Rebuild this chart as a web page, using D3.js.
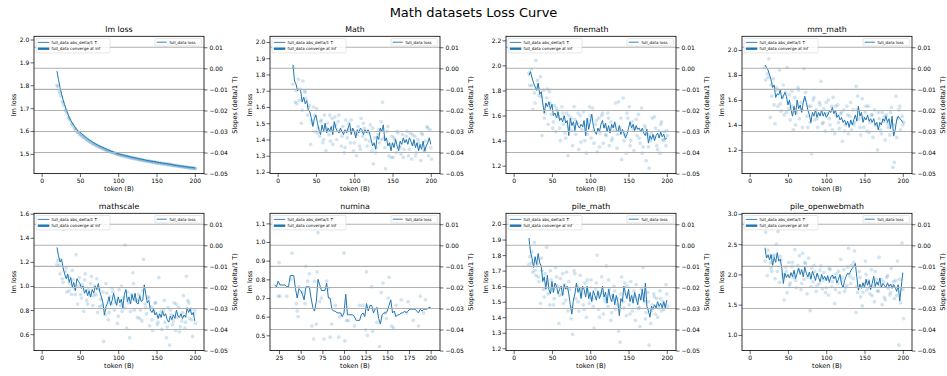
<!DOCTYPE html>
<html><head><meta charset="utf-8">
<script src="https://cdn.jsdelivr.net/npm/d3@7"></script>
<style>body{margin:0;background:#fff}svg{font-family:"DejaVu Sans",sans-serif;display:block}</style>
</head><body><svg id="chart" width="947" height="376"></svg>
<script>
const figTitle = "Math datasets Loss Curve";
const panelTitles = ["lm loss","Math","finemath","mm_math","mathscale","numina","pile_math","pile_openwebmath"];
const tokens = [20,22,24,26,28,30,32,34,36,38,40,42,44,46,48,50,52,54,56,58,60,62,64,66,68,70,72,74,76,78,80,82,84,86,88,90,92,94,96,98,100,102,104,106,108,110,112,114,116,118,120,122,124,126,128,130,132,134,136,138,140,142,144,146,148,150,152,154,156,158,160,162,164,166,168,170,172,174,176,178,180,182,184,186,188,190,192,194,196,198,200];
const scatterTokens = [21,23,25,27,29,31,33,35,37,39,41,43,45,47,49,51,53,55,57,59,61,63,65,67,69,71,73,75,77,79,81,83,85,87,89,91,93,95,97,99,101,103,105,107,109,111,113,115,117,119,121,123,125,127,129,131,133,135,137,139,141,143,145,147,149,151,153,155,157,159,161,163,165,167,169,171,173,175,177,179,181,183,185,187,189,191,193,195,197,199,201];
const scatterTokensB = [20,24,28,32,36,40,44,48,52,56,60,64,68,72,76,80,84,88,92,96,100,104,108,112,116,120,124,128,132,136,140,144,148,152,156,160,164,168,172,176,180,184,188,192,196,200];
const numinaScatterTokens = [24,25,26,34,39,40,45,46,47,48,52,55,56,58,60,63,65,66,68,69,70,72,74,77,80,82,84,86,90,94,95,100,101,103,105,112,118,122,125,126,127,132,133,138,141,143,145,148,149,151,152,155,157,160,166,172,174,180,186,188,192,194];

const lmLoss = [1.862,1.824,1.790,1.762,1.737,1.715,1.695,1.677,1.660,1.646,
1.635,1.625,1.615,1.606,1.600,1.595,1.589,1.583,1.578,1.572,
1.567,1.562,1.558,1.553,1.549,1.545,1.541,1.538,1.534,1.531,
1.528,1.525,1.522,1.519,1.516,1.513,1.511,1.508,1.506,1.503,
1.501,1.499,1.497,1.496,1.494,1.492,1.491,1.489,1.487,1.486,
1.484,1.483,1.481,1.480,1.478,1.477,1.476,1.474,1.473,1.471,
1.470,1.469,1.468,1.467,1.466,1.465,1.463,1.462,1.461,1.460,
1.459,1.458,1.457,1.456,1.455,1.454,1.452,1.451,1.450,1.449,
1.448,1.447,1.446,1.445,1.444,1.443,1.442,1.441,1.441,1.440,1.439];
const lmScatter = [1.795,1.775,1.752,1.730,1.710,1.692,1.676,1.660,1.647,1.634,
1.622,1.612,1.602,1.594,1.587,1.582,1.576,1.571,1.566,1.561,
1.557,1.552,1.548,1.544,1.541,1.537,1.533,1.530,1.527,1.524,
1.521,1.518,1.515,1.513,1.510,1.507,1.505,1.503,1.500,1.498,
1.496,1.494,1.492,1.491,1.489,1.487,1.486,1.484,1.482,1.481,
1.479,1.478,1.477,1.475,1.474,1.472,1.471,1.470,1.468,1.467,
1.466,1.465,1.464,1.463,1.461,1.460,1.459,1.458,1.457,1.456,
1.455,1.454,1.453,1.452,1.451,1.450,1.449,1.448,1.447,1.446,
1.445,1.444,1.443,1.442,1.441,1.440,1.439,1.438,1.437,1.437,1.436];
const lmScatterB = [1.800,1.765,1.722,1.688,1.655,1.630,1.610,1.594,1.585,1.574,
1.563,1.555,1.546,1.539,1.532,1.526,1.520,1.514,1.509,1.505,
1.500,1.496,1.493,1.490,1.486,1.484,1.481,1.478,1.475,1.472,
1.470,1.467,1.465,1.463,1.461,1.459,1.457,1.455,1.452,1.450,
1.448,1.446,1.444,1.442,1.440,1.438];

const mathLoss = [1.86,1.76,1.74,1.70,1.71,1.70,1.63,1.66,1.62,1.64,
1.58,1.57,1.53,1.48,1.53,1.55,1.50,1.46,1.43,1.49,
1.45,1.50,1.44,1.47,1.45,1.48,1.43,1.51,1.47,1.45,
1.44,1.47,1.45,1.43,1.46,1.44,1.47,1.50,1.43,1.47,
1.45,1.41,1.46,1.44,1.47,1.46,1.43,1.46,1.44,1.46,
1.44,1.40,1.36,1.38,1.34,1.42,1.40,1.47,1.45,1.49,
1.39,1.41,1.36,1.38,1.33,1.38,1.35,1.40,1.36,1.33,
1.39,1.37,1.41,1.38,1.40,1.37,1.41,1.39,1.36,1.40,
1.35,1.38,1.33,1.37,1.34,1.39,1.33,1.36,1.38,1.41,1.37];
const mathScatter = [1.84,1.63,1.62,1.77,1.71,1.50,1.76,1.70,1.65,1.55,
1.61,1.37,1.50,1.60,1.45,1.59,1.47,1.42,1.52,1.38,
1.55,1.33,1.50,1.43,1.39,1.53,1.48,1.54,1.40,1.51,
1.45,1.36,1.48,1.32,1.52,1.41,1.50,1.38,1.46,1.33,
1.44,1.30,1.48,1.36,1.53,1.42,1.47,1.40,1.36,1.44,
1.49,1.33,1.25,1.41,1.35,1.43,1.38,1.51,1.63,1.41,
1.22,1.45,1.30,1.37,1.42,1.29,1.40,1.32,1.44,1.36,
1.31,1.43,1.34,1.39,1.45,1.30,1.44,1.28,1.37,1.42,
1.32,1.40,1.35,1.27,1.43,1.33,1.39,1.48,1.30,1.46,1.28];
const mathScatterB = [1.74,1.70,1.64,1.58,1.69,1.60,1.52,1.55,1.44,1.51,
1.40,1.47,1.55,1.37,1.49,1.55,1.42,1.35,1.46,1.52,
1.38,1.43,1.34,1.50,1.45,1.39,1.47,1.32,1.46,1.40,
1.35,1.48,1.29,1.41,1.45,1.35,1.29,1.42,1.34,1.43,
1.30,1.38,1.44,1.33,1.47,1.35];

const finemathLoss = [1.92,1.95,1.90,1.86,1.83,1.80,1.86,1.77,1.79,1.70,
1.62,1.70,1.67,1.71,1.65,1.69,1.60,1.62,1.58,1.63,
1.56,1.58,1.55,1.60,1.54,1.56,1.44,1.58,1.52,1.55,
1.48,1.56,1.52,1.50,1.53,1.51,1.56,1.44,1.58,1.49,
1.55,1.61,1.52,1.47,1.45,1.50,1.47,1.53,1.56,1.50,
1.54,1.47,1.52,1.46,1.53,1.50,1.55,1.49,1.47,1.52,
1.45,1.49,1.46,1.42,1.45,1.50,1.55,1.50,1.53,1.48,
1.52,1.49,1.50,1.47,1.50,1.46,1.44,1.49,1.38,1.44,
1.41,1.45,1.40,1.44,1.46,1.42,1.47,1.43,1.45,1.41,1.42];
const finemathScatter = [1.84,1.97,1.65,1.78,2.04,1.88,1.76,1.91,1.44,1.80,
1.62,1.74,1.53,1.79,1.61,1.50,1.68,1.47,1.64,1.59,
1.40,1.67,1.53,1.46,1.62,1.28,1.50,1.58,1.36,1.67,
1.45,1.54,1.33,1.60,1.49,1.63,1.40,1.30,1.56,1.67,
1.42,1.66,1.38,1.53,1.31,1.58,1.46,1.60,1.38,1.51,
1.44,1.62,1.36,1.55,1.42,1.48,1.70,1.34,1.71,1.50,
1.25,1.74,1.45,1.30,1.58,1.67,1.40,1.55,1.32,1.50,
1.44,1.61,1.38,1.66,1.35,1.52,1.24,1.45,1.18,1.40,
1.58,1.43,1.50,1.36,1.48,1.30,1.55,1.41,1.47,1.36,1.44];
const finemathScatterB = [1.94,1.84,1.70,1.82,1.75,1.58,1.81,1.70,1.55,1.66,
1.50,1.62,1.42,1.60,1.48,1.57,1.62,1.39,1.52,1.45,
1.60,1.48,1.56,1.35,1.62,1.45,1.58,1.40,1.52,1.45,
1.58,1.40,1.62,1.36,1.49,1.57,1.42,1.30,1.50,1.35,
1.46,1.59,1.33,1.53,1.40,1.48];

const mmMathLoss = [1.88,1.86,1.84,1.80,1.76,1.70,1.72,1.62,1.65,1.64,
1.68,1.61,1.63,1.66,1.63,1.56,1.60,1.52,1.47,1.55,
1.48,1.60,1.53,1.56,1.50,1.58,1.63,1.58,1.52,1.48,
1.42,1.50,1.47,1.52,1.46,1.50,1.47,1.52,1.47,1.50,
1.46,1.48,1.51,1.50,1.54,1.49,1.52,1.46,1.48,1.44,
1.46,1.42,1.44,1.40,1.43,1.38,1.44,1.40,1.44,1.48,
1.43,1.55,1.47,1.50,1.42,1.46,1.44,1.48,1.43,1.45,
1.42,1.45,1.40,1.42,1.36,1.42,1.40,1.45,1.43,1.47,
1.42,1.45,1.37,1.47,1.31,1.36,1.44,1.47,1.45,1.44,1.42];
const mmMathScatter = [1.76,1.81,1.93,1.46,1.63,1.77,1.41,1.70,1.55,1.84,
1.51,1.62,1.48,1.66,1.86,1.53,1.44,1.67,1.36,1.62,
1.50,1.70,1.45,1.58,1.38,1.85,1.66,1.47,1.55,1.42,
1.17,1.60,1.44,1.52,1.38,1.58,1.75,1.41,1.53,1.35,
1.49,1.60,1.40,1.55,1.62,1.33,1.48,1.56,1.37,1.49,
1.27,1.52,1.40,1.55,1.33,1.47,1.36,1.52,1.42,1.71,
1.63,1.45,1.32,1.61,1.38,1.50,1.35,1.55,1.42,1.48,
1.30,1.52,1.40,1.20,1.45,1.36,1.50,1.43,1.28,1.48,
1.38,1.32,1.54,1.06,1.10,1.63,1.45,1.52,1.36,1.47,1.42];
const mmMathScatterB = [1.86,1.78,1.72,1.56,1.68,1.57,1.72,1.50,1.64,1.55,
1.40,1.68,1.52,1.60,1.38,1.55,1.62,1.45,1.56,1.42,
1.58,1.45,1.36,1.55,1.42,1.50,1.35,1.48,1.58,1.40,
1.52,1.38,1.46,1.55,1.34,1.48,1.40,1.50,1.33,1.47,
1.41,1.50,1.40,1.30,1.55,1.40];

const mathscaleLoss = [1.32,1.25,1.20,1.22,1.15,1.10,1.06,1.10,1.03,1.07,
0.99,1.03,0.96,1.06,1.04,1.02,0.98,1.00,0.94,0.97,
0.92,0.96,0.91,0.97,0.94,1.00,0.97,1.02,0.95,0.91,
0.86,0.76,0.83,0.86,0.91,0.84,0.88,0.94,0.88,0.84,
0.91,0.86,0.89,0.82,0.93,0.97,0.87,0.91,0.85,0.93,
0.88,0.94,0.86,0.85,0.92,0.87,0.88,1.01,0.93,0.86,
0.88,0.80,0.78,0.81,0.76,0.78,0.73,0.77,0.74,0.79,
0.75,0.77,0.72,0.70,0.75,0.72,0.76,0.73,0.80,0.75,
0.74,0.77,0.73,0.76,0.74,0.82,0.78,0.81,0.76,0.78,0.71];
const mathscaleScatter = [1.21,1.17,1.22,1.06,1.47,1.12,0.95,1.08,1.02,0.93,
1.05,0.98,1.26,0.85,1.07,0.93,1.01,0.79,1.10,0.88,
0.97,0.92,1.08,0.84,1.00,0.93,0.78,0.97,0.89,0.84,
0.54,0.76,0.94,0.72,0.91,0.85,0.95,0.80,0.88,0.69,
0.97,0.84,0.79,0.90,1.34,0.65,0.86,0.57,0.93,1.11,
0.80,0.88,0.74,0.93,0.80,0.71,1.22,0.85,0.77,0.91,
0.67,0.83,0.63,0.79,0.86,0.68,1.07,0.75,0.64,0.80,
0.70,0.57,0.82,0.51,0.76,0.68,0.86,0.63,0.74,0.82,
0.66,0.71,0.92,0.65,1.08,0.88,0.73,0.81,0.58,0.77,0.69];
const mathscaleScatterB = [1.18,1.10,1.03,1.15,0.96,1.13,0.93,1.00,0.90,1.05,
0.85,1.02,0.92,1.06,0.83,0.95,1.02,0.78,0.98,0.86,
0.75,1.00,0.82,0.95,0.79,1.02,0.88,0.73,0.96,0.82,
0.90,0.72,0.86,0.70,0.79,0.88,0.66,0.80,0.71,0.85,
0.62,0.78,0.70,0.86,0.72,0.80];

const numinaLoss = [0.77,0.76,0.79,0.77,0.77,0.77,0.77,0.76,0.76,0.82,
0.82,0.82,0.75,0.70,0.75,0.74,0.72,0.69,0.76,0.76,
0.76,0.70,0.65,0.63,0.68,0.80,0.77,0.74,0.74,0.74,
0.78,0.70,0.70,0.64,0.63,0.63,0.62,0.62,0.62,0.60,
0.62,0.72,0.61,0.61,0.61,0.61,0.60,0.58,0.58,0.58,
0.61,0.62,0.60,0.67,0.63,0.66,0.66,0.62,0.64,0.65,
0.59,0.56,0.61,0.62,0.62,0.63,0.66,0.69,0.62,0.63,
0.60,0.61,0.61,0.62,0.62,0.63,0.62,0.63,0.64,0.64,
0.64,0.64,0.63,0.62,0.64,0.63,0.64,0.64,0.64,0.65,0.65];
const numinaScatter = [0.71,0.89,0.71,0.71,0.80,0.94,0.67,0.63,0.60,0.76,
0.73,0.67,0.87,0.79,0.83,0.55,0.48,0.79,0.56,0.84,
1.05,0.68,0.70,0.48,0.79,0.75,0.49,0.56,0.66,0.49,
0.60,0.94,0.47,0.58,0.58,0.55,0.66,0.66,0.53,0.84,
0.50,0.76,0.52,0.57,0.44,0.73,0.78,0.62,0.59,0.70,
0.81,0.55,0.54,0.66,0.69,0.62,0.68,0.58,0.55,0.71,0.62,0.69];

const pileMathLoss = [1.91,1.82,1.78,1.72,1.79,1.74,1.81,1.75,1.73,1.63,
1.66,1.58,1.67,1.58,1.55,1.63,1.56,1.62,1.60,1.55,
1.58,1.60,1.54,1.61,1.58,1.60,1.55,1.48,1.42,1.51,
1.55,1.62,1.56,1.59,1.52,1.60,1.58,1.53,1.60,1.52,
1.56,1.50,1.57,1.54,1.51,1.57,1.52,1.55,1.60,1.53,
1.56,1.49,1.58,1.53,1.50,1.55,1.48,1.54,1.50,1.41,
1.52,1.50,1.60,1.55,1.52,1.58,1.50,1.54,1.49,1.56,
1.52,1.48,1.55,1.51,1.58,1.50,1.62,1.47,1.44,1.40,
1.47,1.45,1.48,1.46,1.50,1.47,1.49,1.46,1.50,1.46,1.51];
const pileMathScatter = [1.79,1.75,1.69,1.88,1.67,1.74,1.63,1.49,1.70,1.58,
1.68,1.85,1.55,1.48,1.64,1.57,1.52,1.72,1.60,1.36,
1.65,1.55,1.49,1.61,1.69,1.44,1.58,1.39,1.29,1.70,
1.52,1.60,1.44,1.67,1.55,1.48,1.62,1.40,1.57,1.49,
1.64,1.52,1.33,1.58,1.80,1.45,1.55,1.66,1.42,1.52,
1.73,1.47,1.58,1.38,1.54,1.60,1.45,1.52,1.31,1.24,
1.66,1.50,1.62,1.41,1.55,1.48,1.63,1.44,1.57,1.38,
1.52,1.46,1.34,1.58,1.72,1.50,1.43,1.56,1.22,1.36,
1.48,1.55,1.42,1.52,1.46,1.57,1.44,1.50,1.48,1.61,1.47];
const pileMathScatterB = [1.74,1.82,1.70,1.66,1.78,1.53,1.62,1.70,1.48,1.66,
1.54,1.68,1.51,1.63,1.46,1.68,1.50,1.58,1.45,1.64,
1.52,1.47,1.62,1.40,1.56,1.50,1.64,1.43,1.57,1.48,
1.55,1.46,1.60,1.42,1.53,1.61,1.46,1.52,1.39,1.50,
1.44,1.53,1.40,1.52,1.45,1.55];

const pileOwmLoss = [2.44,2.27,2.32,2.24,2.33,2.15,2.28,2.20,2.36,2.22,
2.25,2.10,1.85,2.02,1.95,2.00,1.94,2.03,1.96,2.07,
1.93,2.02,2.10,2.00,2.08,1.96,2.12,2.02,1.96,2.04,
1.92,2.05,1.98,1.90,2.02,1.95,1.88,2.00,1.92,1.97,
1.90,1.98,1.87,1.96,1.99,1.93,1.97,1.86,1.92,2.00,
1.84,1.78,1.90,1.97,2.02,2.00,2.06,2.10,2.13,2.18,
1.95,1.74,1.84,1.77,1.86,1.78,1.92,1.82,1.90,1.75,
1.85,1.97,1.80,1.88,1.82,1.94,1.79,1.85,1.82,1.78,
1.86,1.80,1.84,1.77,1.83,1.79,1.72,1.83,1.56,1.80,2.03];
const pileOwmScatter = [2.70,1.98,2.32,2.19,2.05,2.30,1.93,2.50,2.71,1.87,
2.24,2.00,1.58,2.12,1.70,2.20,1.86,2.13,1.95,2.41,
1.78,2.15,2.31,1.75,2.35,1.92,2.18,1.68,2.27,1.40,
2.10,1.88,2.05,1.72,1.99,1.85,2.14,1.76,2.03,1.70,
1.92,1.66,2.08,1.80,1.95,1.52,2.01,1.85,1.70,2.25,
1.95,2.08,1.78,1.82,2.43,1.97,2.15,1.93,2.39,1.37,
1.70,2.05,1.63,1.48,1.85,2.22,1.74,1.90,1.68,2.08,
1.80,1.55,1.92,1.73,2.28,1.80,1.50,1.88,1.58,1.95,
1.77,1.66,2.10,1.82,1.60,1.90,2.22,0.83,1.53,2.52,1.27];
const pileOwmScatterB = [2.22,2.40,2.10,2.32,2.05,2.30,1.95,2.05,1.82,2.20,
1.90,2.08,1.85,2.20,1.95,1.80,2.15,1.82,2.07,1.90,
1.78,2.10,1.88,1.75,2.05,1.90,1.72,2.12,1.85,2.20,
1.80,1.95,1.70,2.00,1.78,1.65,2.05,1.72,1.92,1.62,
1.98,1.70,1.88,1.65,1.92,1.75];

const xTicks = [0,50,100,150,200];
const numinaXTicks = [25,50,75,100,125,150,175,200];
const slopeTicks = [0.01,0.00,-0.01,-0.02,-0.03,-0.04,-0.05];
const yTicksLm = [1.5,1.6,1.7,1.8,1.9,2.0];
const yTicksMath = [1.2,1.3,1.4,1.5,1.6,1.7,1.8,1.9,2.0];
const yTicksFinemath = [1.2,1.4,1.6,1.8,2.0,2.2];
const yTicksMm = [1.2,1.4,1.6,1.8,2.0];
const yTicksMathscale = [0.6,0.8,1.0,1.2,1.4,1.6];
const yTicksNumina = [0.5,0.6,0.7,0.8,0.9,1.0,1.1];
const yTicksPile = [1.2,1.3,1.4,1.5,1.6,1.7,1.8,1.9,2.0];
const yTicksOwm = [1.0,1.5,2.0,2.5,3.0];
const legendLeft = ["full_data abs_delta/1 T","full_data converge at inf"];
const legendRight = "full_data loss";
const yLabel = "lm loss", y2Label = "Slopes (delta/1 T)", xLabel = "token (B)";

const panels = [
 {line:lmLoss, sets:[[scatterTokens,lmScatter],[scatterTokensB,lmScatterB]], yDom:[1.414,2.014], yTicks:yTicksLm, xDom:[-10,212], xTicks:xTicks},
 {line:mathLoss, sets:[[scatterTokens,mathScatter],[scatterTokensB,mathScatterB]], yDom:[1.19,2.035], yTicks:yTicksMath, xDom:[-10,212], xTicks:xTicks},
 {line:finemathLoss, sets:[[scatterTokens,finemathScatter],[scatterTokensB,finemathScatterB]], yDom:[1.137,2.232], yTicks:yTicksFinemath, xDom:[-10,212], xTicks:xTicks},
 {line:mmMathLoss, sets:[[scatterTokens,mmMathScatter],[scatterTokensB,mmMathScatterB]], yDom:[1.01,2.11], yTicks:yTicksMm, xDom:[-10,212], xTicks:xTicks},
 {line:mathscaleLoss, sets:[[scatterTokens,mathscaleScatter],[scatterTokensB,mathscaleScatterB]], yDom:[0.464,1.603], yTicks:yTicksMathscale, xDom:[-10,212], xTicks:xTicks},
 {line:numinaLoss, sets:[[numinaScatterTokens,numinaScatter]], yDom:[0.418,1.154], yTicks:yTicksNumina, xDom:[14.6,210.8], xTicks:numinaXTicks},
 {line:pileMathLoss, sets:[[scatterTokens,pileMathScatter],[scatterTokensB,pileMathScatterB]], yDom:[1.185,2.069], yTicks:yTicksPile, xDom:[-10,212], xTicks:xTicks},
 {line:pileOwmLoss, sets:[[scatterTokens,pileOwmScatter],[scatterTokensB,pileOwmScatterB]], yDom:[0.741,3.01], yTicks:yTicksOwm, xDom:[-10,212], xTicks:xTicks}
];

const svg = d3.select('#chart');
const W = 170, H = 137.3, lefts = [34,270,506,742], tops = [36.3,213.3];
const FONT = '"DejaVu Sans", sans-serif';
const BLUE = '#1f77b4';
svg.append('text').attr('x',473.5).attr('y',16.5).attr('text-anchor','middle')
  .attr('font-size',13).attr('fill','#000').text(figTitle);

function styleAxis(sel){
  sel.attr('font-family',FONT).attr('font-size',6);
  sel.select('.domain').remove();
  sel.selectAll('.tick line').attr('stroke','#000').attr('stroke-width',0.6);
  sel.selectAll('.tick text').attr('fill','#000');
}

panels.forEach((p,i)=>{
  const L = lefts[i%4], T = tops[Math.floor(i/4)];
  const g = svg.append('g').attr('transform',`translate(${L},${T})`);
  const x = d3.scaleLinear().domain(p.xDom).range([0,W]);
  const y = d3.scaleLinear().domain(p.yDom).range([H,0]);
  const ys = d3.scaleLinear().domain([-0.05,0.0152]).range([H,0]);
  const cid = 'clip'+i;
  g.append('clipPath').attr('id',cid).append('rect').attr('width',W).attr('height',H);
  const plot = g.append('g').attr('clip-path',`url(#${cid})`);
  const pts = [];
  p.sets.forEach(([xs,vs])=>xs.forEach((t,k)=>{ if(vs[k]!=null) pts.push([t,vs[k]]); }));
  plot.selectAll('circle').data(pts).join('circle')
    .attr('cx',d=>x(d[0])).attr('cy',d=>y(d[1])).attr('r',1.85)
    .attr('fill',BLUE).attr('fill-opacity',0.2);
  const ln = tokens.map((t,k)=>[t,p.line[k]]).filter(d=>d[1]!=null);
  plot.append('path').datum(ln).attr('d',d3.line().x(d=>x(d[0])).y(d=>y(d[1])))
    .attr('fill','none').attr('stroke',BLUE).attr('stroke-width',1).attr('stroke-linejoin','round');
  g.append('g').selectAll('line').data(slopeTicks.filter(v=>v>-0.045)).join('line')
    .attr('x1',0).attr('x2',W).attr('y1',d=>ys(d)).attr('y2',d=>ys(d))
    .attr('stroke','#b0b0b0').attr('stroke-width',1.1);
  const xa = g.append('g').attr('transform',`translate(0,${H})`)
    .call(d3.axisBottom(x).tickValues(p.xTicks).tickSize(3.5).tickPadding(1.5).tickFormat(d3.format('d')));
  styleAxis(xa);
  const ya = g.append('g').call(d3.axisLeft(y).tickValues(p.yTicks).tickSize(3.5).tickPadding(1.2).tickFormat(d3.format('.1f')));
  styleAxis(ya);
  const ra = g.append('g').attr('transform',`translate(${W},0)`)
    .call(d3.axisRight(ys).tickValues(slopeTicks).tickSize(3.5).tickPadding(2).tickFormat(d3.format('.2f')));
  styleAxis(ra);
  g.append('rect').attr('width',W).attr('height',H).attr('fill','none').attr('stroke','#000').attr('stroke-width',0.8);
  g.append('text').attr('x',W/2).attr('y',-4.2).attr('text-anchor','middle')
    .attr('font-size',7.8).attr('fill','#000').text(panelTitles[i]);
  g.append('text').attr('x',W/2).attr('y',H+17.3).attr('text-anchor','middle')
    .attr('font-size',6.5).attr('fill','#000').text(xLabel);
  g.append('text').attr('transform',`translate(${-18.4},${H/2}) rotate(-90)`).attr('text-anchor','middle')
    .attr('font-size',6.5).attr('fill','#000').text(yLabel);
  g.append('text').attr('transform',`translate(${W+33.3},${H/2}) rotate(-90)`).attr('text-anchor','middle')
    .attr('font-size',6.5).attr('fill','#000').text(y2Label);
  const lg = g.append('g');
  lg.append('rect').attr('x',2).attr('y',2.2).attr('width',74).attr('height',14.4).attr('rx',1)
    .attr('fill','#fff').attr('fill-opacity',0.85).attr('stroke','#cccccc').attr('stroke-width',0.5);
  [6.1,12.4].forEach((yy,k)=>{
    lg.append('line').attr('x1',3.8).attr('x2',15.3).attr('y1',yy).attr('y2',yy)
      .attr('stroke',BLUE).attr('stroke-width',k===0?0.9:2.4);
    lg.append('text').attr('x',17.6).attr('y',yy+1.4).attr('font-size',4).attr('fill','#000').text(legendLeft[k]);
  });
  lg.append('rect').attr('x',W-49).attr('y',2.2).attr('width',46.3).attr('height',7.4).attr('rx',1)
    .attr('fill','#fff').attr('fill-opacity',0.85).attr('stroke','#cccccc').attr('stroke-width',0.5);
  lg.append('line').attr('x1',W-47.3).attr('x2',W-37.3).attr('y1',5.9).attr('y2',5.9)
    .attr('stroke',BLUE).attr('stroke-width',0.9);
  lg.append('text').attr('x',W-34.6).attr('y',7.3).attr('font-size',4).attr('fill','#000').text(legendRight);
});
</script>
</body></html>
